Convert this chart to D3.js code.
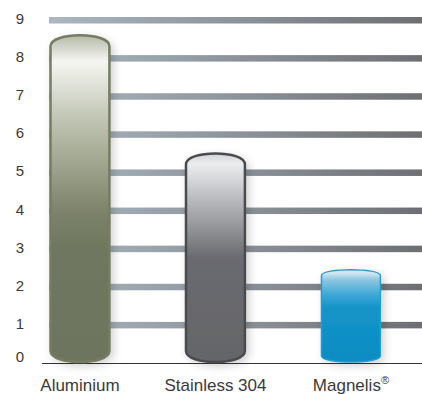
<!DOCTYPE html>
<html>
<head>
<meta charset="utf-8">
<script src="https://cdn.jsdelivr.net/npm/d3@7"></script>
<style>
  body { margin: 0; background: #fff; }
  text { font-family: "Liberation Sans", Arial, sans-serif; fill: #3a3a3a; }
</style>
</head>
<body>
<div id="chart"></div>
<script>
const MARGIN = {left: 49, right: 0, top: 20, bottom: 31};
const WIDTH = 422 - MARGIN.left - MARGIN.right;
const HEIGHT = 394 - MARGIN.top - MARGIN.bottom;

// data
const materials = ['Aluminium', 'Stainless 304', 'Magnelis'];
const values = [8.6, 5.5, 2.45];
const yTicks = [0, 1, 2, 3, 4, 5, 6, 7, 8, 9];

// bar looks
const strokeColors = ['#757c62', '#4b4c50', '#2b9bd1'];
const strokeWidths = [2.5, 2.5, 1.5];
const gradientStops = [
    [[0, '#b5b9a8'], [0.08, '#f5f6f2'], [0.24, '#c5c9b8'], [0.39, '#a0a68f'], [0.54, '#7c836a'], [0.65, '#6f7760'], [1, '#6d755e']],
    [[0, '#d0d1d4'], [0.05, '#ecedef'], [0.22, '#b9babd'], [0.38, '#8d8e92'], [0.5, '#6a6b70'], [1, '#646569']],
    [[0, '#d0e6f1'], [0.04, '#d0e6f1'], [0.11, '#8fc6e2'], [0.27, '#3ea8d6'], [0.41, '#1594c8'], [1, '#0a8cc2']]
];

const svg = d3.select('#chart').append('svg')
    .attr('width', 422)
    .attr('height', 394);

const defs = svg.append('defs');

const g = svg.append('g')
    .attr('transform', `translate(${MARGIN.left},${MARGIN.top})`);

const y = d3.scaleLinear()
    .domain([0, 9])
    .range([HEIGHT, 0]);

const x = d3.scaleBand()
    .domain(materials)
    .range([-25.6, 358.5])
    .paddingInner(0.565)
    .paddingOuter(0.2);

// gridline gradient
const gridGrad = defs.append('linearGradient')
    .attr('id', 'gridGrad')
    .attr('gradientUnits', 'userSpaceOnUse')
    .attr('x1', 0).attr('x2', WIDTH).attr('y1', 0).attr('y2', 0);
gridGrad.append('stop').attr('offset', 0).attr('stop-color', '#abb7c1');
gridGrad.append('stop').attr('offset', 1).attr('stop-color', '#6d6f73');

g.selectAll('.grid')
    .data(yTicks.filter(d => d > 0))
    .enter()
    .append('rect')
        .attr('class', 'grid')
        .attr('x', 0)
        .attr('width', WIDTH)
        .attr('y', d => y(d) - 3)
        .attr('height', 6.5)
        .attr('fill', 'url(#gridGrad)');

// baseline
g.append('line')
    .attr('x1', -7).attr('x2', WIDTH)
    .attr('y1', y(0) + 0.5).attr('y2', y(0) + 0.5)
    .attr('stroke', '#333')
    .attr('stroke-width', 1);

// tick labels
g.selectAll('.tick-label')
    .data(yTicks)
    .enter()
    .append('text')
        .attr('class', 'tick-label')
        .attr('x', -29)
        .attr('y', d => d === 0 ? y(d) - 1 : y(d) + 4)
        .attr('text-anchor', 'middle')
        .attr('font-size', '15px')
        .text(d => d);

// shadow
const shadow = defs.append('filter')
    .attr('id', 'shadow')
    .attr('x', '-30%').attr('y', '-10%')
    .attr('width', '160%').attr('height', '125%');
shadow.append('feDropShadow')
    .attr('dx', 3).attr('dy', 3)
    .attr('stdDeviation', 4)
    .attr('flood-color', '#000')
    .attr('flood-opacity', 0.18);

materials.forEach((m, i) => {
    let grad = defs.append('linearGradient')
        .attr('id', 'barGrad' + i)
        .attr('x1', 0).attr('x2', 0).attr('y1', 0).attr('y2', 1);
    gradientStops[i].forEach(s => {
        grad.append('stop').attr('offset', s[0]).attr('stop-color', s[1]);
    });
});

function barPath(d, i) {
    const x0 = x(materials[i]);
    const x1 = x0 + x.bandwidth();
    const yt = y(d);
    const yb = y(0) - 1;
    // dome height: big rounded caps for the first two, flatter for magnelis
    const r = i === 2 ? 6 : 11;
    const k = r / 0.75 - r;
    return `M${x0},${yb - r}` +
        `L${x0},${yt + r}` +
        `C${x0},${yt - k} ${x1},${yt - k} ${x1},${yt + r}` +
        `L${x1},${yb - r}` +
        `C${x1},${yb + k} ${x0},${yb + k} ${x0},${yb - r}Z`;
}

g.selectAll('.bar')
    .data(values)
    .enter()
    .append('path')
        .attr('class', 'bar')
        .attr('d', (d, i) => barPath(d, i))
        .attr('fill', (d, i) => `url(#barGrad${i})`)
        .attr('stroke', (d, i) => strokeColors[i])
        .attr('stroke-width', (d, i) => strokeWidths[i])
        .attr('filter', 'url(#shadow)');

// category labels
const labels = g.selectAll('.cat-label')
    .data(materials)
    .enter()
    .append('text')
        .attr('class', 'cat-label')
        .attr('x', d => x(d) + x.bandwidth() / 2)
        .attr('y', HEIGHT + 28)
        .attr('text-anchor', 'middle')
        .attr('font-size', '17px')
        .text(d => d);

labels.filter(d => d === 'Magnelis')
    .append('tspan')
        .attr('font-size', '11px')
        .attr('dy', -7)
        .text('®');
</script>
</body>
</html>
